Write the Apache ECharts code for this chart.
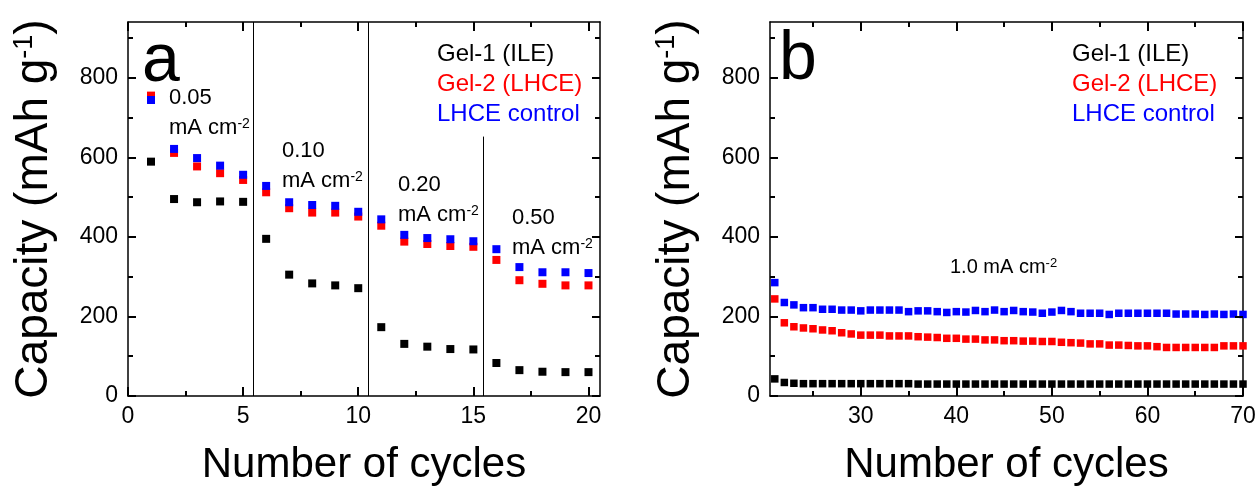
<!DOCTYPE html>
<html>
<head>
<meta charset="utf-8">
<script src="https://cdn.jsdelivr.net/npm/echarts@6/dist/echarts.min.js"></script>
<style>
html, body { margin: 0; padding: 0; background: #fff; }
#main { width: 1259px; height: 486px; }
</style>
</head>
<body>
<div id="main"></div>
<script>
// panel a: rate test, cycles 1-20
const cyclesA = [1, 2, 3, 4, 5, 6, 7, 8, 9, 10, 11, 12, 13, 14, 15, 16, 17, 18, 19, 20]
const gel1A = [589, 495, 487, 489, 488, 395, 305, 283, 278, 271, 173, 131, 124, 118, 117, 83, 65, 61, 60, 60]
const gel2A = [755, 611, 577, 560, 543, 512, 472, 461, 461, 451, 428, 388, 382, 377, 375, 342, 291, 282, 278, 278]
const lhceA = [744, 621, 598, 579, 556, 528, 487, 480, 478, 463, 444, 405, 397, 394, 389, 369, 324, 311, 311, 309]

// panel b: 1.0 mA cm-2, cycles 21-70
const cyclesB = [21, 22, 23, 24, 25, 26, 27, 28, 29, 30, 31, 32, 33, 34, 35, 36, 37, 38, 39, 40,
  41, 42, 43, 44, 45, 46, 47, 48, 49, 50, 51, 52, 53, 54, 55, 56, 57, 58, 59, 60,
  61, 62, 63, 64, 65, 66, 67, 68, 69, 70]
const gel1B = [43, 34, 32, 31, 31, 31, 31, 31, 31, 31, 31, 31, 31, 31, 31, 30, 30, 30, 30, 30,
  30, 30, 30, 30, 30, 30, 30, 30, 30, 30, 30, 30, 30, 30, 30, 30, 30, 30, 30, 30,
  30, 30, 30, 30, 30, 30, 30, 30, 30, 30]
const gel2B = [244, 184, 174, 171, 169, 166, 164, 159, 156, 153, 153, 153, 151, 151, 151, 149, 148, 147, 145, 145,
  143, 143, 141, 141, 139, 139, 138, 138, 137, 137, 135, 134, 133, 131, 131, 128, 128, 127, 126, 126,
  124, 122, 122, 122, 122, 122, 122, 126, 126, 126]
const lhceB = [285, 235, 229, 222, 222, 218, 218, 216, 216, 214, 216, 216, 216, 216, 212, 214, 214, 212, 210, 212,
  211, 215, 212, 216, 212, 215, 212, 211, 208, 211, 215, 212, 208, 208, 208, 205, 208, 208, 208, 208,
  208, 208, 206, 206, 206, 205, 206, 205, 206, 205]

const seriesNames = ['Gel-1 (ILE)', 'Gel-2 (LHCE)', 'LHCE control']
const seriesColors = ['#000000', '#ff0000', '#0000ff']

// axis ranges and tick values
const yRange = [0, 940]
const xRangeA = [0, 20.5]
const xRangeB = [20.5, 70]
const yTicks = [0, 200, 400, 600, 800]
const yMinor = [100, 300, 500, 700, 900]
const xTicksA = [0, 5, 10, 15, 20]
const xMinorA = [2.5, 7.5, 12.5, 17.5]
const xTicksB = [30, 40, 50, 60, 70]
const xMinorB = [25, 35, 45, 55, 65]

// rate-change separators in panel a (x, y top)
const sepX = [5.45, 10.45, 15.45]
const sepTop = [940, 940, 652]

const FONT = "'Liberation Sans', Arial, sans-serif"
const gridA = { left: 128, top: 22, width: 472, height: 374 }
const gridB = { left: 770, top: 22, width: 473, height: 374 }

const main = document.getElementById('main')
const myChart = echarts.init(main, null, { renderer: 'canvas' })

function toPairs(xs, ys) {
  return xs.map((x, i) => [x, ys[i]])
}

const lineStyle = { color: '#000', width: 1.5 }

function bottomAxis(grid, range, ticks) {
  return {
    gridIndex: grid, type: 'value', position: 'bottom', min: range[0], max: range[1],
    axisLine: { show: true, onZero: false, lineStyle: lineStyle },
    axisTick: { show: false },
    minorTick: { show: false },
    axisLabel: { show: true, customValues: ticks, fontSize: 23, fontFamily: FONT, color: '#000', margin: 9 },
    splitLine: { show: false },
    name: 'Number of cycles', nameLocation: 'middle', nameGap: 48,
    nameTextStyle: { fontSize: 42, fontFamily: FONT, color: '#000' }
  }
}
function topAxis(grid, range) {
  return {
    gridIndex: grid, type: 'value', position: 'top', min: range[0], max: range[1],
    axisLine: { show: true, onZero: false, lineStyle: lineStyle },
    axisTick: { show: false }, minorTick: { show: false },
    axisLabel: { show: false }, splitLine: { show: false }
  }
}
function leftAxis(grid) {
  return {
    gridIndex: grid, type: 'value', position: 'left', min: yRange[0], max: yRange[1],
    axisLine: { show: true, onZero: false, lineStyle: lineStyle },
    axisTick: { show: false },
    minorTick: { show: false },
    axisLabel: { show: true, customValues: yTicks, fontSize: 23, fontFamily: FONT, color: '#000', margin: 10 },
    splitLine: { show: false },
    name: 'Capacity (mAh g{s|-1})', nameLocation: 'middle', nameGap: 71, nameRotate: 90,
    nameTextStyle: {
      fontSize: 46, fontFamily: FONT, color: '#000',
      rich: { s: { fontSize: 27, fontFamily: FONT, color: '#000', verticalAlign: 'top' } }
    }
  }
}
function rightAxis(grid) {
  return {
    gridIndex: grid, type: 'value', position: 'right', min: yRange[0], max: yRange[1],
    axisLine: { show: true, onZero: false, lineStyle: lineStyle },
    axisTick: { show: false }, minorTick: { show: false },
    axisLabel: { show: false }, splitLine: { show: false }
  }
}

// inward tick marks on all four sides, as short markLine segments
// (pixel lengths converted to data units of each axis)
function tickSegments(xRange, xMajor, xMinorVals, grid) {
  const xu = (xRange[1] - xRange[0]) / grid.width
  const yu = (yRange[1] - yRange[0]) / grid.height
  const segs = []
  const addX = (v, len) => {
    segs.push([{ coord: [v, yRange[0]] }, { coord: [v, yRange[0] + len * yu] }])
    segs.push([{ coord: [v, yRange[1]] }, { coord: [v, yRange[1] - len * yu] }])
  }
  const addY = (v, len) => {
    segs.push([{ coord: [xRange[0], v] }, { coord: [xRange[0] + len * xu, v] }])
    segs.push([{ coord: [xRange[1], v] }, { coord: [xRange[1] - len * xu, v] }])
  }
  xMajor.forEach(v => addX(v, 9))
  xMinorVals.forEach(v => addX(v, 5))
  yTicks.forEach(v => addY(v, 8))
  yMinor.forEach(v => addY(v, 5))
  return segs
}

function scatter(name, color, data, xIdx, yIdx, size) {
  return {
    name: name, type: 'scatter', xAxisIndex: xIdx, yAxisIndex: yIdx,
    symbol: 'rect', symbolSize: size, data: data,
    itemStyle: { color: color, opacity: 1 },
    silent: true
  }
}

const seriesA = [gel1A, gel2A, lhceA].map((ys, i) =>
  scatter(seriesNames[i], seriesColors[i], toPairs(cyclesA, ys), 0, 0, 8))
const seriesB = [gel1B, gel2B, lhceB].map((ys, i) =>
  scatter(seriesNames[i], seriesColors[i], toPairs(cyclesB, ys), 2, 2, 7.5))

function markLines(segs) {
  return {
    silent: true, symbol: ['none', 'none'], animation: false,
    label: { show: false },
    lineStyle: { color: '#000', width: 2, type: 'solid' },
    emphasis: { disabled: true },
    data: segs
  }
}

const separators = sepX.map((x, i) => [
  { coord: [x, 0], lineStyle: { width: 1 } },
  { coord: [x, sepTop[i]] }
])
seriesA[0].markLine = markLines([...separators, ...tickSegments(xRangeA, xTicksA, xMinorA, gridA)])
seriesB[0].markLine = markLines(tickSegments(xRangeB, xTicksB, xMinorB, gridB))

function legendAt(left) {
  return {
    left: left, top: 39, orient: 'vertical', padding: 0, itemGap: 0,
    icon: 'none', itemWidth: 0, itemHeight: 0, selectedMode: false,
    textStyle: { fontSize: 24, fontFamily: FONT, lineHeight: 30 },
    data: seriesNames.map((n, i) => ({ name: n, textStyle: { color: seriesColors[i] } }))
  }
}

const annoRich = {
  b: { fontSize: 22, fontFamily: FONT, fill: '#000' },
  s: { fontSize: 14, fontFamily: FONT, fill: '#000', verticalAlign: 'top' }
}
function note(text, x, y) {
  return {
    type: 'text', x: x, y: y, silent: true,
    style: { text: text, rich: annoRich, fill: '#000', font: '22px ' + FONT, align: 'left', verticalAlign: 'middle' }
  }
}

myChart.setOption({
  animation: false,
  backgroundColor: '#fff',
  grid: [
    Object.assign({ containLabel: false, outerBoundsMode: 'none' }, gridA),
    Object.assign({ containLabel: false, outerBoundsMode: 'none' }, gridB)
  ],
  xAxis: [
    bottomAxis(0, xRangeA, xTicksA),
    topAxis(0, xRangeA),
    bottomAxis(1, xRangeB, xTicksB),
    topAxis(1, xRangeB)
  ],
  yAxis: [
    leftAxis(0), rightAxis(0),
    leftAxis(1), rightAxis(1)
  ],
  legend: [legendAt(432), legendAt(1067)],
  series: [...seriesA, ...seriesB],
  graphic: [
    { type: 'text', x: 142, y: 62, silent: true,
      style: { text: 'a', font: '68px ' + FONT, fill: '#000', verticalAlign: 'middle' } },
    { type: 'text', x: 779, y: 60, silent: true,
      style: { text: 'b', font: '68px ' + FONT, fill: '#000', verticalAlign: 'middle' } },
    note('{b|0.05}', 169, 98),
    note('{b|mA cm}{s|-2}', 169, 128),
    note('{b|0.10}', 282, 151),
    note('{b|mA cm}{s|-2}', 282, 181),
    note('{b|0.20}', 398, 185),
    note('{b|mA cm}{s|-2}', 398, 215),
    note('{b|0.50}', 512, 218),
    note('{b|mA cm}{s|-2}', 512, 248),
    {
      type: 'text', x: 950, y: 267, silent: true,
      style: {
        text: '{b|1.0 mA cm}{s|-2}', align: 'left', verticalAlign: 'middle',
        rich: {
          b: { fontSize: 20, fontFamily: FONT, fill: '#000' },
          s: { fontSize: 13, fontFamily: FONT, fill: '#000', verticalAlign: 'top' }
        }
      }
    }
  ]
})
</script>
</body>
</html>
